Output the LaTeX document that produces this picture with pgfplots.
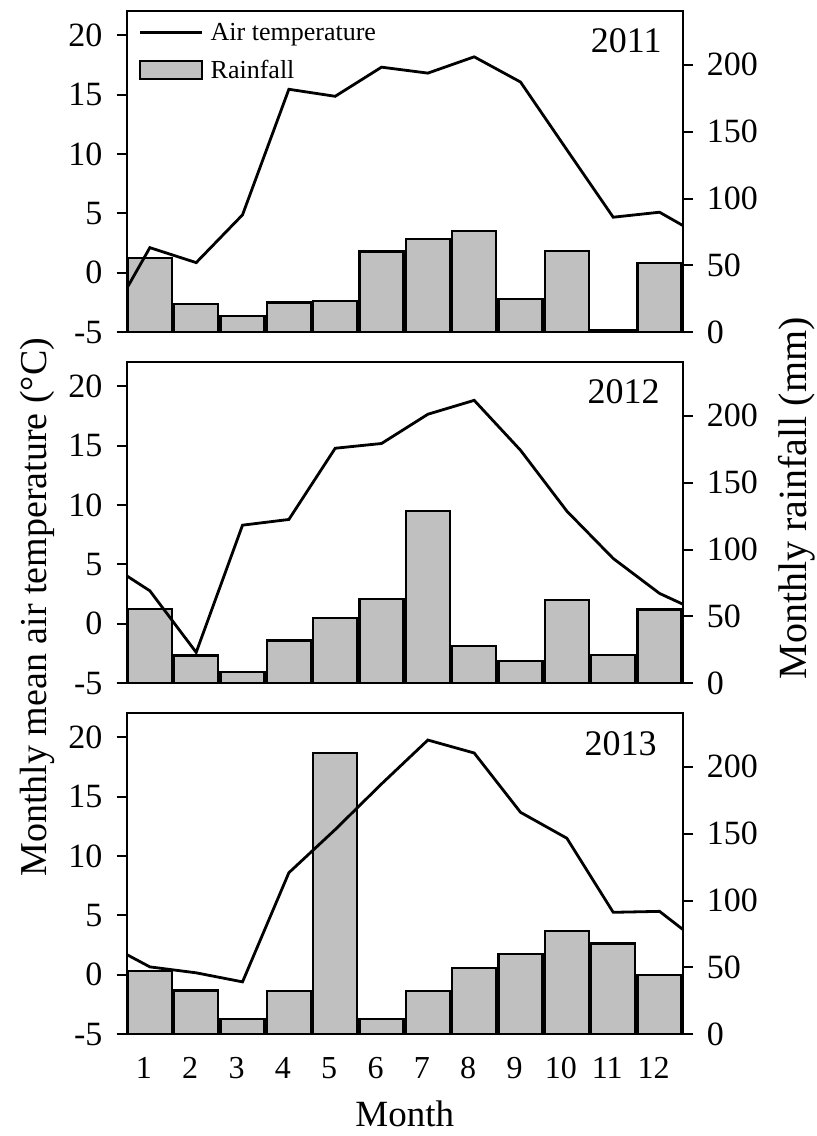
\documentclass[border=0pt]{standalone}
\usepackage{fontspec}
\setmainfont{Liberation Serif}
\usepackage{pgfplots}
\pgfplotsset{compat=1.18}
\usepackage{pgfplotstable}

\definecolor{barfill}{RGB}{192,192,192}

% Monthly rainfall (mm)
\pgfplotstableread{
m rain
1 55.5
2 21.3
3 12.1
4 22.3
5 23.3
6 60.4
7 69.9
8 75.8
9 24.8
10 60.7
11 1.7
12 52.0
}\rainA
\pgfplotstableread{
m rain
1 55.8
2 20.8
3 8.6
4 32.0
5 49.1
6 63.2
7 128.6
8 28.0
9 16.8
10 62.2
11 21.3
12 55.2
}\rainB
\pgfplotstableread{
m rain
1 47.1
2 32.7
3 11.6
4 32.2
5 210.4
6 11.2
7 32.2
8 49.5
9 60.2
10 77.3
11 67.9
12 44.1
}\rainC

% Monthly mean air temperature (degC), with the year's edges
\pgfplotstableread{
m t
0.5 -1.32
1 2.12
2 0.86
3 4.88
4 15.44
5 14.85
6 17.30
7 16.80
8 18.17
9 16.05
10 10.35
11 4.68
12 5.10
12.5 3.99
}\tempA
\pgfplotstableread{
m t
0.5 4.04
1 2.78
2 -2.40
3 8.30
4 8.78
5 14.77
6 15.17
7 17.63
8 18.80
9 14.60
10 9.48
11 5.50
12 2.56
12.5 1.66
}\tempB
\pgfplotstableread{
m t
0.5 1.71
1 0.67
2 0.17
3 -0.59
4 8.59
5 12.22
6 16.06
7 19.75
8 18.66
9 13.67
10 11.49
11 5.26
12 5.34
12.5 3.83
}\tempC

\tikzset{yearlabel/.style={anchor=east, font=\fontsize{36}{38}\selectfont, inner sep=0pt}}
\newcommand{\tickfont}{\fontsize{34}{36}\selectfont}

\pgfplotsset{
  panel/.style={
    scale only axis, width=556pt, height=321pt,
    xmin=0.5, xmax=12.5,
    axis line style={line width=2.2pt},
    tick style={line width=2pt, black},
    tick align=outside, major tick length=10pt,
  },
  rainax/.style={
    panel, ymin=0, ymax=240,
    xtick=\empty,
    ytick pos=right,
    ytick={0,50,100,150,200},
    yticklabels={0,50,100,150,200},
    yticklabel style={font=\tickfont, inner sep=0pt, anchor=west, xshift=14pt},
  },
  tempax/.style={
    panel, ymin=-5, ymax=22,
    ytick pos=left,
    ytick={-5,0,5,10,15,20},
    yticklabels={-5,0,5,10,15,20},
    yticklabel style={font=\tickfont, inner sep=0pt, anchor=east, xshift=-14pt},
    xtick={1,...,12},
    x tick style={draw=none},
    xticklabel style={font=\fontsize{32}{34}\selectfont, inner sep=0pt, xshift=-6pt, yshift=-13pt},
  },
  rainbar/.style={ybar, bar width=0.95, fill=barfill, draw=black, line width=2.2pt},
  templine/.style={black, line width=2.8pt, no marks},
  linelegend/.style={legend image code/.code={\draw[##1] (0pt,0pt) -- (62pt,0pt);}},
  boxlegend/.style={legend image code/.code={\draw[##1] (0pt,-9pt) rectangle (62pt,9pt);}},
}

\begin{document}
\begin{tikzpicture}
% 2011
\begin{axis}[rainax, at={(0pt,702pt)}]
  \addplot[rainbar] table[x=m, y=rain] {\rainA};
\end{axis}
\begin{axis}[tempax, at={(0pt,702pt)}, name=p1, xticklabels={},
  legend cell align=left,
  legend style={at={(rel axis cs:0,1)}, anchor=north west, xshift=12pt, yshift=-12pt,
    draw=none, fill=none, inner sep=0pt, row sep=18pt,
    font=\fontsize{26}{28}\selectfont,
    nodes={inner ysep=0pt, inner xsep=7pt, anchor=west}}]
  \addplot[templine, linelegend] table[x=m, y=t] {\tempA};
  \addlegendentry{Air temperature}
  \addlegendimage{fill=barfill, draw=black, line width=2.2pt, boxlegend}
  \addlegendentry{Rainfall}
  \node[yearlabel] at (rel axis cs:1,1) [xshift=-21pt, yshift=-29pt] {2011};
\end{axis}

% 2012
\begin{axis}[rainax, at={(0pt,351pt)}]
  \addplot[rainbar] table[x=m, y=rain] {\rainB};
\end{axis}
\begin{axis}[tempax, at={(0pt,351pt)}, name=p2, xticklabels={}]
  \addplot[templine] table[x=m, y=t] {\tempB};
  \node[yearlabel] at (rel axis cs:1,1) [xshift=-23pt, yshift=-29pt] {2012};
\end{axis}

% 2013
\begin{axis}[rainax, at={(0pt,0pt)}]
  \addplot[rainbar] table[x=m, y=rain] {\rainC};
\end{axis}
\begin{axis}[tempax, at={(0pt,0pt)}, name=p3,
  xticklabels={1,2,3,4,5,6,7,8,9,10,11,12}]
  \addplot[templine] table[x=m, y=t] {\tempC};
  \node[yearlabel] at (rel axis cs:1,1) [xshift=-26pt, yshift=-30pt] {2013};
\end{axis}

% bottom axis lines run past the frame
\foreach \p in {p1,p2,p3}{
  \draw[line width=2.2pt] ([xshift=-10pt]\p.south west) -- ([xshift=10pt]\p.south east);
}

% shared axis titles
\node[rotate=90, font=\fontsize{38}{40}\selectfont] at (-89pt,427pt)
  {Monthly mean air temperature (°C)};
\node[rotate=90, font=\fontsize{40}{42}\selectfont] at (670pt,536pt)
  {Monthly rainfall (mm)};
\node[font=\fontsize{37}{39}\selectfont] at (278pt,-80pt) {Month};

\pgfresetboundingbox
\path[use as bounding box] (-126.7pt,-101.7pt) rectangle (690.3pt,1034.3pt);
\end{tikzpicture}
\end{document}
